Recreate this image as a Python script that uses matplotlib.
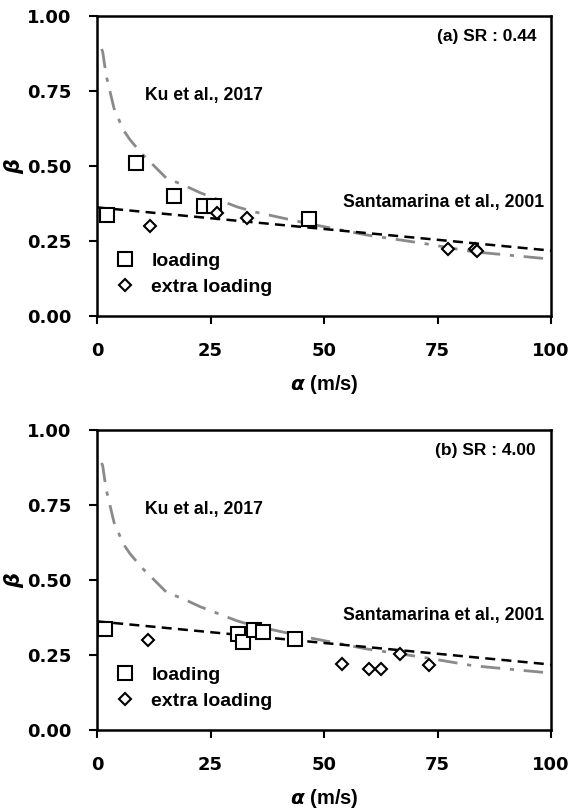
import numpy as np
import matplotlib
matplotlib.use('Agg')
import matplotlib.pyplot as plt

plt.rcParams['font.family'] = ['Liberation Sans', 'DejaVu Sans']
plt.rcParams['font.weight'] = 'bold'
plt.rcParams['mathtext.fontset'] = 'custom'
plt.rcParams['mathtext.it'] = 'DejaVu Sans:bold:italic'
plt.rcParams['mathtext.rm'] = 'Liberation Sans:bold'

# Ku et al., 2017 curve
ku_x = [1.0, 1.25, 2.0, 3.75, 5.8, 7.3, 9.8, 12.4, 15.3, 19.0, 22.7, 30.8,
        34.4, 46.2, 59.4, 71.9, 82.9, 98.3, 100.0]
ku_y = [0.89, 0.881, 0.803, 0.692, 0.62, 0.587, 0.542, 0.503, 0.459, 0.437,
        0.411, 0.364, 0.348, 0.309, 0.27, 0.242, 0.214, 0.192, 0.19]

# Santamarina et al., 2001 line
sant_x = [0, 100]
sant_y = [0.362, 0.218]

# (a) SR : 0.44
a_load_x = [2.3, 8.5, 17.0, 23.6, 25.8, 46.8]
a_load_y = [0.337, 0.511, 0.401, 0.367, 0.367, 0.322]
a_extra_x = [11.7, 26.4, 33.0, 77.4, 83.2, 83.6]
a_extra_y = [0.30, 0.344, 0.326, 0.222, 0.222, 0.217]

# (b) SR : 4.00
b_load_x = [1.8, 31.0, 32.1, 34.6, 36.6, 43.6]
b_load_y = [0.336, 0.32, 0.292, 0.333, 0.326, 0.303]
b_extra_x = [11.2, 53.9, 59.9, 62.6, 66.7, 73.2]
b_extra_y = [0.30, 0.22, 0.202, 0.204, 0.252, 0.218]

xticks = [0, 25, 50, 75, 100]
yticks = [0.0, 0.25, 0.5, 0.75, 1.0]

fig = plt.figure(figsize=(5.72, 8.09), dpi=100)
ax1 = fig.add_axes([0.1696, 0.6094, 0.7937, 0.3708])
ax2 = fig.add_axes([0.1696, 0.0977, 0.7937, 0.3708])

panels = [
    (ax1, a_load_x, a_load_y, a_extra_x, a_extra_y, '(a) SR : 0.44'),
    (ax2, b_load_x, b_load_y, b_extra_x, b_extra_y, '(b) SR : 4.00'),
]

tick_font = {'family': 'DejaVu Sans', 'weight': 'bold', 'size': 13}

for ax, lx, ly, ex, ey, tag in panels:
    ax.plot(ku_x, ku_y, color='#8a8a8a', lw=2, dashes=[7, 3.5, 1.5, 3.5], zorder=1)
    ax.plot(sant_x, sant_y, color='black', lw=1.8, dashes=[4, 2.5], zorder=2)
    ax.plot(lx, ly, 's', ms=10, mfc='white', mec='black', mew=1.5,
            ls='none', label='loading', zorder=3)
    ax.plot(ex, ey, 'D', ms=6.5, mfc='white', mec='black', mew=1.5,
            ls='none', label='extra loading', zorder=4)

    ax.set_xlim(0, 100)
    ax.set_ylim(0, 1)
    ax.set_xticks(xticks)
    ax.set_yticks(yticks)
    ax.set_xticklabels([str(t) for t in xticks], fontdict=tick_font)
    ax.set_yticklabels(['%.2f' % t for t in yticks], fontdict=tick_font)
    ax.tick_params(direction='out', length=5.5, width=1.5)
    ax.tick_params(axis='x', pad=13)
    ax.tick_params(axis='y', pad=13)
    for s in ax.spines.values():
        s.set_linewidth(1.8)

    ax.set_xlabel(r'$\alpha$ (m/s)', fontsize=14.5, fontweight='bold')
    ax.xaxis.set_label_coords(0.5, -0.19)
    ax.set_ylabel(r'$\beta$', fontsize=15, fontweight='bold', va='center')
    ax.yaxis.set_label_coords(-0.183, 0.5)

    ax.text(0.967, 0.932, tag, transform=ax.transAxes, ha='right', va='center',
            fontsize=12.5, fontweight='bold')
    ax.text(0.105, 0.735, 'Ku et al., 2017', transform=ax.transAxes,
            ha='left', va='center', fontsize=12.7, fontweight='bold')
    ax.text(0.985, 0.38, 'Santamarina et al., 2001', transform=ax.transAxes,
            ha='right', va='center', fontsize=12.7, fontweight='bold')

    ax.legend(loc='center left', bbox_to_anchor=(0.04, 0.14), frameon=False,
              fontsize=14, handletextpad=0.85, labelspacing=0.42,
              handlelength=1.0, borderaxespad=0, borderpad=0)

fig.savefig('out.png', dpi=100)
